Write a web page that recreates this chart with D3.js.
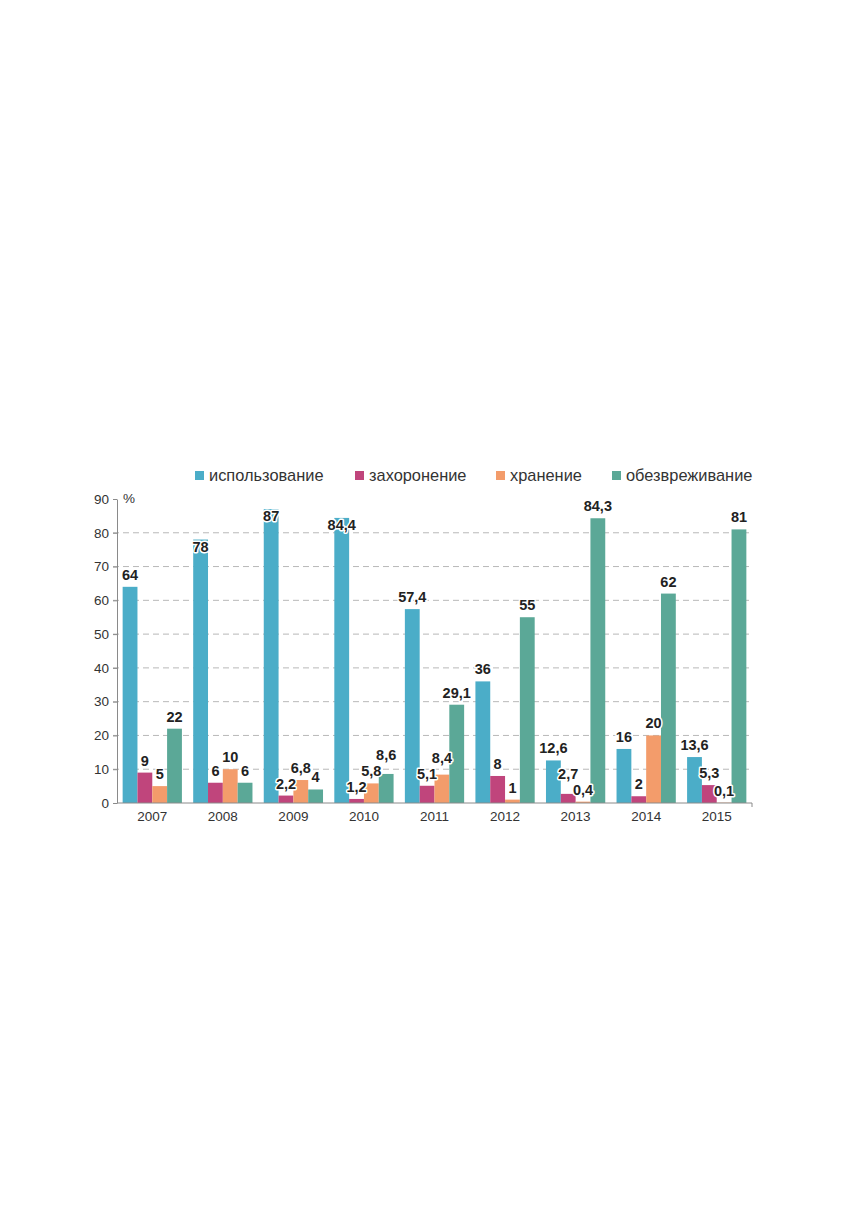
<!DOCTYPE html>
<html>
<head>
<meta charset="utf-8">
<script src="https://cdn.jsdelivr.net/npm/d3@7"></script>
<style>
  body { margin: 0; background: #fff; }
  text { font-family: "Liberation Sans", Arial, sans-serif; }
</style>
</head>
<body>
<div id="chart"></div>
<script>
// data (%)
var years = ["2007", "2008", "2009", "2010", "2011", "2012", "2013", "2014", "2015"];
var seriesNames = ["использование", "захоронение", "хранение", "обезвреживание"];
var ispolzovanie = [64, 78, 87, 84.4, 57.4, 36, 12.6, 16, 13.6];
var zahoronenie = [9, 6, 2.2, 1.2, 5.1, 8, 2.7, 2, 5.3];
var hranenie = [5, 10, 6.8, 5.8, 8.4, 1, 0.4, 20, 0.1];
var obezvrezhivanie = [22, 6, 4, 8.6, 29.1, 55, 84.3, 62, 81];
var yTicks = [0, 10, 20, 30, 40, 50, 60, 70, 80, 90];
var colors = ["#4badc8", "#c0457c", "#f39c6b", "#5ba897"];

var seriesValues = [ispolzovanie, zahoronenie, hranenie, obezvrezhivanie];

var W = 856, H = 1227;
var margin = {left: 117, top: 499, right: 104, bottom: 424};
var width = W - margin.left - margin.right,
    height = H - margin.top - margin.bottom;

var svg = d3.select("#chart").append("svg")
    .attr("width", W)
    .attr("height", H);

var g = svg.append("g")
    .attr("transform", "translate(" + margin.left + "," + margin.top + ")");

var x0 = d3.scaleBand()
    .domain(years)
    .range([0, width])
    .paddingInner(0.16)
    .paddingOuter(0.08);

var x1 = d3.scaleBand()
    .domain(d3.range(seriesNames.length))
    .range([0, x0.bandwidth()]);

var y = d3.scaleLinear()
    .domain([0, 90])
    .range([height, 0]);

// grid
g.append("g")
  .selectAll("line")
  .data(yTicks.filter(function(t) { return t > 0 && t < 90; }))
  .enter().append("line")
    .attr("x1", -4)
    .attr("x2", width)
    .attr("y1", function(d) { return y(d); })
    .attr("y2", function(d) { return y(d); })
    .attr("stroke", "#b8b8b8")
    .attr("stroke-width", 1)
    .attr("stroke-dasharray", "6,4");

// bars
var groups = g.append("g")
  .selectAll("g")
  .data(years)
  .enter().append("g")
    .attr("transform", function(d) { return "translate(" + x0(d) + ",0)"; });

groups.selectAll("rect")
  .data(function(d, i) { return seriesValues.map(function(s, k) { return {k: k, v: s[i]}; }); })
  .enter().append("rect")
    .attr("x", function(d) { return x1(d.k); })
    .attr("y", function(d) { return y(d.v); })
    .attr("width", x1.bandwidth())
    .attr("height", function(d) { return height - y(d.v); })
    .attr("fill", function(d) { return colors[d.k]; });

// y axis
var yAxis = g.append("g")
    .call(d3.axisLeft(y).tickValues(yTicks).tickSize(4).tickSizeOuter(0).tickPadding(4));
yAxis.select(".domain").attr("stroke", "#8a8a8a");
yAxis.selectAll(".tick line").attr("stroke", "#8a8a8a");
yAxis.selectAll(".tick text")
    .attr("fill", "#333")
    .attr("font-size", 13.5);

// x axis
var xAxis = g.append("g")
    .attr("transform", "translate(0," + height + ")")
    .call(d3.axisBottom(x0).tickSize(0).tickPadding(8));
xAxis.select(".domain").attr("stroke", "#8a8a8a").attr("d", "M0,0H" + width + "V4");
xAxis.selectAll(".tick text")
    .attr("fill", "#333")
    .attr("font-size", 13.5);

g.append("text")
    .attr("x", 6)
    .attr("y", y(90) + 4)
    .attr("font-size", 13.5)
    .attr("fill", "#333")
    .text("%");

// value labels
var fmt = function(v) { return String(v).replace(".", ","); };
var labelLayer = g.append("g");
years.forEach(function(yr, i) {
  var items = seriesValues.map(function(s, k) {
    var v = s[i];
    var cx = x0(yr) + x1(k) + x1.bandwidth() / 2;
    // tall blue bars near the top carry their label inside
    var by = (k === 0 && v > 75) ? y(v) + 12 : y(v) - 7;
    return {k: k, v: v, cx: cx, by: by};
  });
  var texts = items.map(function(d) {
    return labelLayer.append("text")
      .attr("x", d.cx)
      .attr("text-anchor", "middle")
      .attr("font-size", 14.5)
      .attr("font-weight", "bold")
      .attr("fill", "#222")
      .attr("stroke", "#fff")
      .attr("stroke-width", 3)
      .attr("stroke-linejoin", "round")
      .attr("paint-order", "stroke")
      .text(fmt(d.v));
  });
  items.forEach(function(d, j) { d.w = texts[j].node().getComputedTextLength(); });
  // lift the taller neighbour when two labels collide
  for (var j = 0; j < items.length - 1; j++) {
    var a = items[j], b = items[j + 1];
    var hOverlap = (a.cx + a.w / 2) > (b.cx - b.w / 2) + 1;
    if (hOverlap && Math.abs(a.by - b.by) < 15) {
      if (a.v >= b.v) a.by = b.by - 16; else b.by = a.by - 16;
    }
  }
  texts.forEach(function(t, j) { t.attr("y", items[j].by); });
});

// legend
var legendTextX = [209, 369, 510, 626];
var legend = svg.append("g");
seriesNames.forEach(function(name, k) {
  legend.append("rect")
    .attr("x", legendTextX[k] - 14)
    .attr("y", 471)
    .attr("width", 9)
    .attr("height", 9)
    .attr("fill", colors[k]);
  legend.append("text")
    .attr("x", legendTextX[k])
    .attr("y", 481)
    .attr("font-size", 16.4)
    .attr("fill", "#333")
    .text(name);
});
</script>
</body>
</html>
